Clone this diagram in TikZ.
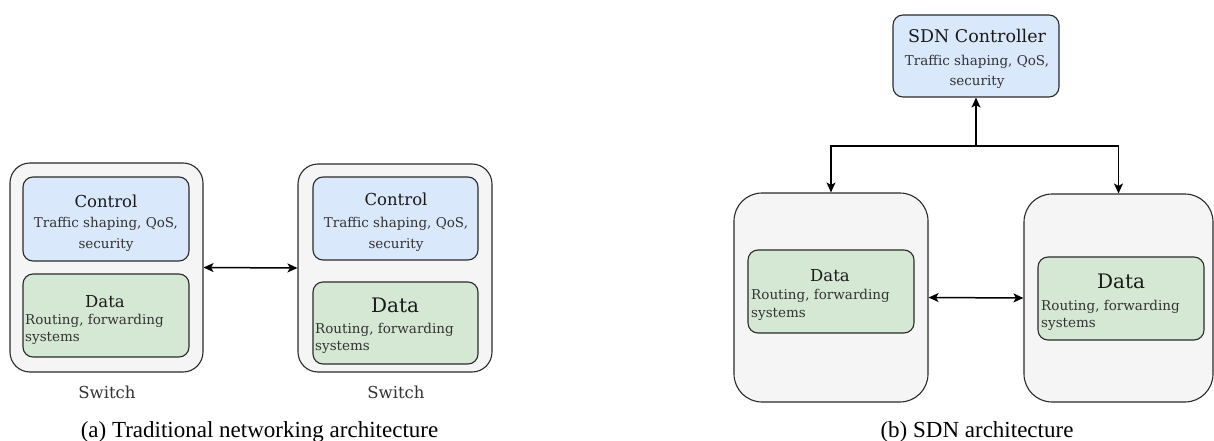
\documentclass[tikz,border=0pt]{standalone}
\usepackage{fontspec}
\setmainfont{DejaVu Serif}
\newfontfamily\capfont{Liberation Serif}
\usetikzlibrary{arrows.meta}
\definecolor{ctlfill}{HTML}{DAE8FC}
\definecolor{datfill}{HTML}{D5E8D4}
\definecolor{swfill}{HTML}{F5F5F5}
\definecolor{edge}{HTML}{2A2A2A}
\definecolor{txt}{HTML}{1A1A1A}
\definecolor{subtxt}{HTML}{333333}
\tikzset{
  box/.style={draw=edge, line width=1.1pt, inner sep=0pt},
  swbox/.style={box, fill=swfill, rounded corners=20pt},
  swboxb/.style={box, fill=swfill, rounded corners=28pt},
  ctlbox/.style={box, fill=ctlfill, rounded corners=10pt},
  datbox/.style={box, fill=datfill, rounded corners=10pt},
  txtbase/.style={inner sep=0pt, anchor=mid, yshift=-3pt},
  ttl/.style={txtbase, text=txt, font=\fontsize{16.5}{19}\selectfont},
  bigttl/.style={txtbase, text=txt, font=\fontsize{20}{24}\selectfont},
  sdnttl/.style={txtbase, text=txt, font=\fontsize{17.5}{21}\selectfont},
  sub/.style={txtbase, text=subtxt, font=\fontsize{13.5}{16}\selectfont},
  subl/.style={sub, anchor=mid west},
  lbl/.style={txtbase, text=subtxt, font=\fontsize{16.5}{19}\selectfont},
  captxt/.style={inner sep=0pt, anchor=base, text=black, font=\capfont\fontsize{23}{27}\selectfont},
  tip/.tip={Stealth[length=10pt,width=9pt,inset=2.5pt]},
  arr/.style={line width=1.5pt, draw=black, -tip},
  darr/.style={line width=1.5pt, draw=black, tip-tip}
}
\begin{document}
\begin{tikzpicture}[x=1pt,y=-1pt]
\useasboundingbox (0,0) rectangle (1214,441);
% ---------- (a) traditional ----------
\node[swbox, minimum width=193pt, minimum height=209pt] (sw1) at (106.5,267.5) {};
\node[ctlbox, minimum width=166pt, minimum height=84pt] (c1) at (106,219) {};
\node[datbox, minimum width=166pt, minimum height=83pt] (d1) at (106,315.5) {};
\node[ttl] (c1t) at (106,202) {Control};
\node[sub] (c1s1) at (106,222) {Traffic shaping, QoS,};
\node[sub] (c1s2) at (106,243) {security};
\node[ttl] (d1t) at (105,302) {Data};
\node[subl] (d1s1) at (25,319) {Routing, forwarding};
\node[subl] (d1s2) at (25,336) {systems};
\node[lbl] (sw1l) at (107,393) {Switch};

\node[swbox, minimum width=194pt, minimum height=208pt] (sw2) at (395,268) {};
\node[ctlbox, minimum width=165pt, minimum height=83pt] (c2) at (395.5,218.5) {};
\node[datbox, minimum width=165pt, minimum height=82pt] (d2) at (395.5,323) {};
\node[ttl] (c2t) at (396,200) {Control};
\node[sub] (c2s1) at (396,222) {Traffic shaping, QoS,};
\node[sub] (c2s2) at (396,243) {security};
\node[bigttl] (d2t) at (395,307) {Data};
\node[subl] (d2s1) at (315,328) {Routing, forwarding};
\node[subl] (d2s2) at (315,345) {systems};
\node[lbl] (sw2l) at (396,393) {Switch};

\draw[darr] (sw1.east) -- (sw2.west);
\node[captxt] (capa) at (259.5,437) {(a) Traditional networking architecture};

% ---------- (b) SDN ----------
\node[ctlbox, minimum width=166pt, minimum height=82pt] (ctrl) at (976,56) {};
\node[sdnttl] (ctrlt) at (977,37) {SDN Controller};
\node[sub] (ctrls1) at (977,60) {Traffic shaping, QoS,};
\node[sub] (ctrls2) at (977,80) {security};

\node[swboxb, minimum width=194pt, minimum height=209pt] (sw3) at (831,297.5) {};
\node[datbox, minimum width=166pt, minimum height=83pt] (d3) at (831,291.5) {};
\node[ttl] (d3t) at (830,276) {Data};
\node[subl] (d3s1) at (751,294) {Routing, forwarding};
\node[subl] (d3s2) at (751,312) {systems};

\node[swboxb, minimum width=189pt, minimum height=208pt] (sw4) at (1118.5,298) {};
\node[datbox, minimum width=166pt, minimum height=83pt] (d4) at (1121,298.5) {};
\node[bigttl] (d4t) at (1121,283) {Data};
\node[subl] (d4s1) at (1041,305) {Routing, forwarding};
\node[subl] (d4s2) at (1041,322) {systems};

\coordinate (j) at (ctrl.south |- 0,146);
\draw[arr] (j) -- (ctrl.south);
\draw[arr] (j) -| (sw3.north);
\draw[arr] (j) -| (sw4.north);
\draw[darr] (sw3.east) -- (sw4.west);
\node[captxt] (capb) at (977,437) {(b) SDN architecture};
\end{tikzpicture}
\end{document}
